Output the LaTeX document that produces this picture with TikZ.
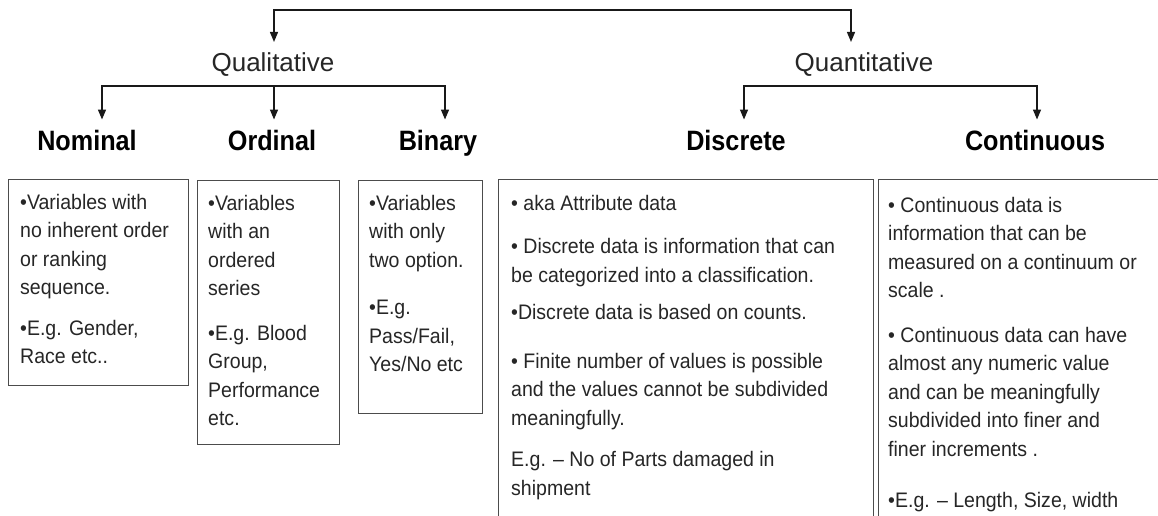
\documentclass[tikz,border=0pt]{standalone}
\usepackage{fontspec}
\setmainfont{Liberation Sans}
\newfontfamily\bodyfont[FakeStretch=0.93]{Liberation Sans}
\newfontfamily\headfont[FakeStretch=0.9]{Liberation Sans}
\usetikzlibrary{arrows.meta}
\begin{document}
\begin{tikzpicture}[x=1pt,y=1pt,
  arr/.style={line width=1.4pt, draw=black!90, line join=miter},
  tips2/.style={{Triangle[length=10pt,width=8pt]}-{Triangle[length=10pt,width=8pt]}},
  tip1/.style={-{Triangle[length=10pt,width=8pt]}},
  mid/.style={font=\fontsize{26}{30}\selectfont, text=black!85, inner sep=0pt},
  head/.style={font=\headfont\bfseries\fontsize{28}{32}\selectfont, text=black, inner sep=0pt},
  boxr/.style={draw=black!70, line width=1.3pt, anchor=north west, inner sep=0pt},
  body/.style={anchor=base west, inner sep=0pt, text=black!85, font=\bodyfont\fontsize{21}{28.5}\selectfont}]
\fill[white] (0,0) rectangle (1158,-515);
\useasboundingbox (0,0) rectangle (1158,-515);
\clip (0,0) rectangle (1158,-515);

% level 1
\node[mid, anchor=base] (ql) at (273,-71) {Qualitative};
\node[mid, anchor=base] (qn) at (864,-71) {Quantitative};
\coordinate (top) at (0,-10);
\coordinate (qlT) at ([xshift=1pt,yshift=10pt]ql.north);
\coordinate (qnT) at ([xshift=-13pt,yshift=10pt]qn.north);
\draw[arr, tips2] (qlT) -- (qlT |- top) -- (qnT |- top) -- (qnT);

% level 2
\node[head, anchor=base] (nom) at (87,-150) {Nominal};
\node[head, anchor=base] (ord) at (272,-150) {Ordinal};
\node[head, anchor=base] (bin) at (438,-150) {Binary};
\node[head, anchor=base] (dis) at (736,-150) {Discrete};
\node[head, anchor=base] (con) at (1035,-150) {Continuous};

\coordinate (barA) at (0,-86);
\coordinate (nomT) at ([xshift=15pt,yshift=10pt]nom.north);
\coordinate (ordT) at ([xshift=2pt,yshift=10pt]ord.north);
\coordinate (binT) at ([xshift=7pt,yshift=10pt]bin.north);
\draw[arr, tips2] (nomT) -- (nomT |- barA) -- (binT |- barA) -- (binT);
\draw[arr, tip1] (ordT |- barA) -- (ordT);

\coordinate (disT) at ([xshift=8pt,yshift=10pt]dis.north);
\coordinate (conT) at ([xshift=2pt,yshift=10pt]con.north);
\draw[arr, tips2] (disT) -- (disT |- barA) -- (conT |- barA) -- (conT);

% boxes
\node[boxr, minimum width=180pt, minimum height=206pt] (b1) at (8,-179) {};
\node[boxr, minimum width=142pt, minimum height=264pt] (b2) at (197,-180) {};
\node[boxr, minimum width=124pt, minimum height=233pt] (b3) at (358,-180) {};
\node[boxr, minimum width=375pt, minimum height=380pt] (b4) at (498,-179) {};
\node[boxr, minimum width=320pt, minimum height=380pt] (b5) at (878,-179) {};

\node[body] (t1) at ([shift={(12,-30)}]b1.north west) {\parbox[t]{170pt}{\raggedright
•Variables with\\ no inherent  order\\ or ranking\\ sequence.\\[12pt]
•E.g. Gender,\\ Race etc..}};
\node[body] (t2) at ([shift={(11,-30)}]b2.north west) {\parbox[t]{135pt}{\raggedright
•Variables\\ with an\\ ordered\\ series\\[16pt]
•E.g. Blood\\ Group,\\ Performance\\ etc.}};
\node[body] (t3) at ([shift={(11,-30)}]b3.north west) {\parbox[t]{120pt}{\raggedright
•Variables\\ with only\\ two option.\\[19pt]
•E.g.\\ Pass/Fail,\\ Yes/No etc}};
\node[body] (t4) at ([shift={(13,-31)}]b4.north west) {\parbox[t]{370pt}{\raggedright
• aka Attribute data\\[15pt]
• Discrete data is information that can\\ be categorized into a classification.\\[9pt]
•Discrete data is based on counts.\\[20pt]
• Finite number of values is possible\\ and the values cannot be subdivided\\ meaningfully.\\[13pt]
E.g. – No of Parts damaged in\\ shipment}};
\node[body] (t5) at ([shift={(10,-33)}]b5.north west) {\parbox[t]{300pt}{\raggedright
• Continuous data is\\ information that can be\\ measured on a continuum  or\\ scale .\\[16pt]
• Continuous data can have\\ almost any numeric value\\ and can be meaningfully\\ subdivided into finer and\\ finer increments .\\[23pt]
•E.g. – Length,  Size, width}};
\end{tikzpicture}
\end{document}
